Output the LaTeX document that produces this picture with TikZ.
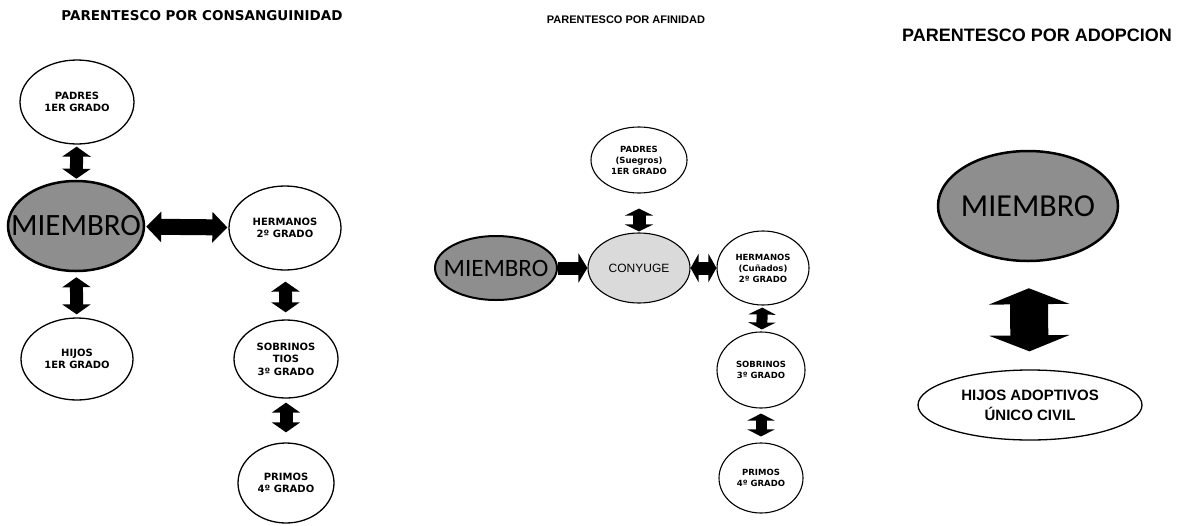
\documentclass[tikz,border=0pt]{standalone}
\usepackage{fontspec}
\usepackage{xcolor}
\usepackage{tikz}
\usetikzlibrary{shapes,arrows.meta,positioning}
\newfontfamily\wide{DejaVu Sans}
\newfontfamily\arial{Liberation Sans}
\newfontfamily\calib{Carlito}
\definecolor{griso}{HTML}{8E8E8E}
\definecolor{grisc}{HTML}{DADADA}

\begin{document}
\begin{tikzpicture}[x=1pt, y=-1pt,
  grado/.style={ellipse, draw, line width=1.3pt, fill=white, inner sep=0pt, align=center,
    font=\wide\bfseries\fontsize{10}{12.5}\selectfont},
  afin/.style={grado, line width=1.1pt, font=\wide\bfseries\fontsize{8.5}{11}\selectfont},
  miembro/.style={ellipse, draw, line width=2.5pt, fill=griso, inner sep=0pt},
  flecha/.style n args={3}{line width=#1,
    arrows={Triangle[width=#2,length=#3]-Triangle[width=#2,length=#3]}},
  flechauna/.style n args={3}{line width=#1, arrows={-Triangle[width=#2,length=#3]}}]
\useasboundingbox (0,0) rectangle (1177,525);

% consanguinidad
\node[font=\wide\bfseries\fontsize{13.5}{16}\selectfont] (tit1) at (202,16) {PARENTESCO POR CONSANGUINIDAD};
\node[grado, minimum width=114pt, minimum height=84pt] (pad1) at (77,102) {PADRES\\1ER GRADO};
\node[miembro, minimum width=136pt, minimum height=90pt, font=\calib\fontsize{31}{36}\selectfont] (mie1) at (76,226) {\makebox[0pt]{MIEMBRO}};
\node[grado, minimum width=112pt, minimum height=84pt] (her1) at (285,228) {HERMANOS\\2º GRADO};
\node[grado, minimum width=112pt, minimum height=82pt] (hij1) at (77,359) {HIJOS\\1ER GRADO};
\node[grado, minimum width=104pt, minimum height=78pt] (sob1) at (286,359) {SOBRINOS\\TIOS\\3º GRADO};
\node[grado, minimum width=96pt, minimum height=80pt] (pri1) at (286,483) {PRIMOS\\4º GRADO};
\draw[flecha={13pt}{28pt}{10pt}, shorten <=2pt, shorten >=1pt] (pad1) -- (mie1);
\draw[flecha={16pt}{30pt}{15pt}, shorten <=1pt, shorten >=1pt] (mie1) -- (her1);
\draw[flecha={13pt}{28pt}{10pt}, shorten <=5pt, shorten >=3pt] (mie1) -- (hij1);
\draw[flecha={13pt}{28pt}{10pt}, shorten <=11pt, shorten >=7pt] (her1) -- (sob1);
\draw[flecha={13pt}{28pt}{10pt}, shorten <=4pt, shorten >=10pt] (sob1) -- (pri1);

% afinidad
\node[font=\arial\bfseries\fontsize{11}{13}\selectfont] (tit2) at (626,20) {PARENTESCO POR AFINIDAD};
\node[afin, minimum width=96pt, minimum height=66pt] (pad2) at (639,160) {PADRES\\(Suegros)\\1ER GRADO};
\node[ellipse, draw, line width=1.1pt, fill=grisc, inner sep=0pt, minimum width=102pt, minimum height=70pt,
  font=\arial\fontsize{12}{14}\selectfont] (con) at (639,268) {CONYUGE};
\node[miembro, line width=2pt, minimum width=122pt, minimum height=64pt, font=\calib\fontsize{25}{30}\selectfont] (mie2) at (496,268) {\makebox[0pt]{MIEMBRO}};
\node[afin, minimum width=92pt, minimum height=74pt] (her2) at (763,268) {HERMANOS\\(Cuñados)\\2º GRADO};
\node[afin, minimum width=88pt, minimum height=76pt] (sob2) at (761,370) {SOBRINOS\\3º GRADO};
\node[afin, minimum width=84pt, minimum height=70pt] (pri2) at (761,478) {PRIMOS\\4º GRADO};
\draw[flecha={13pt}{28pt}{7pt}, shorten <=15pt, shorten >=1pt] (pad2) -- (con);
\draw[flechauna={13pt}{29pt}{9pt}] (mie2) -- (con);
\draw[flecha={13pt}{28pt}{8pt}] (con) -- (her2);
\draw[flecha={11pt}{27pt}{7pt}, shorten <=2pt, shorten >=2pt] (her2) -- (sob2);
\draw[flecha={11pt}{27pt}{7pt}, shorten <=5pt, shorten >=6pt] (sob2) -- (pri2);

% adopcion
\node[font=\arial\bfseries\fontsize{18}{21}\selectfont] (tit3) at (1037,35) {PARENTESCO POR ADOPCION};
\node[miembro, minimum width=180pt, minimum height=110pt, font=\calib\fontsize{32}{38}\selectfont] (mie3) at (1028,206) {\makebox[0pt]{MIEMBRO}};
\node[ellipse, draw, line width=1.3pt, inner sep=0pt, minimum width=224pt, minimum height=70pt, align=center,
  font=\arial\bfseries\fontsize{15}{20}\selectfont] (hij3) at (1030,405) {HIJOS ADOPTIVOS\\ÚNICO CIVIL};
\draw[flecha={38pt}{80pt}{16pt}, shorten <=26pt, shorten >=18pt] (mie3) -- (hij3);
\end{tikzpicture}
\end{document}
